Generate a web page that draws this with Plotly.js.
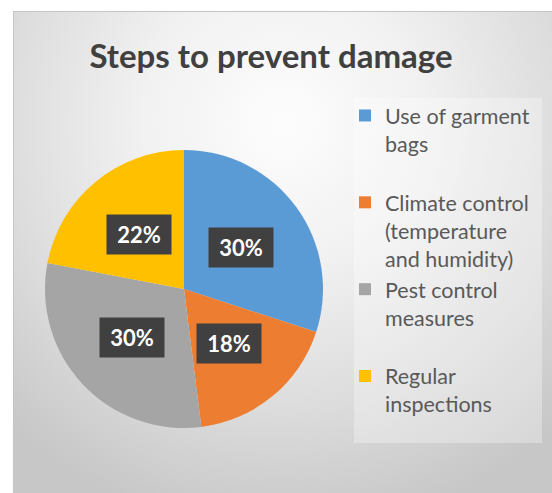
<!DOCTYPE html>
<html>
<head>
<meta charset="utf-8">
<script src="https://cdn.plot.ly/plotly-3.0.1.min.js"></script>
<style>
  html, body { margin: 0; padding: 0; background: #ffffff; }
  #wrap { position: relative; width: 552px; height: 493px; overflow: hidden; }
  #frame { position: absolute; left: 13px; top: 11px; width: 560px; height: 500px;
           border-left: 1px solid #c4c4c4; border-top: 1px solid #c4c4c4;
           background: radial-gradient(ellipse 72% 82% at 48% 22%, #fdfdfd 0%, #f1f1f1 35%, #dcdcdc 70%, #c7c7c7 100%); }
  #chart { position: absolute; left: 0; top: 0; width: 552px; height: 493px; }
</style>
</head>
<body>
<div id="wrap">
  <div id="frame"></div>
  <div id="chart"></div>
</div>
<script>
// ---- data ----
var categories = ["Use of garment bags", "Climate control (temperature and humidity)", "Pest control measures", "Regular inspections"];
var legendLabels = ["Use of garment<br>bags<br>\u00a0", "Climate control<br>(temperature<br>and humidity)", "Pest control<br>measures<br>\u00a0", "Regular<br>inspections"];
var values = [30, 18, 30, 22];
var colors = ["#5b9bd5", "#ed7d31", "#a5a5a5", "#ffc000"];
var chartTitle = "Steps to prevent damage";

var W = 552, H = 493;
var dom = { x: [0.0815, 0.5851], y: [0.1318, 0.6957] };

var trace = {
  type: "pie",
  labels: legendLabels,
  values: values,
  sort: false,
  direction: "clockwise",
  rotation: 0,
  marker: { colors: colors, line: { width: 0 } },
  textinfo: "none",
  hoverinfo: "label+percent",
  domain: dom
};

// label annotations positioned from data
var total = values.reduce(function (a, b) { return a + b; }, 0);
var cx = (dom.x[0] + dom.x[1]) / 2, cy = (dom.y[0] + dom.y[1]) / 2;
var R = Math.min((dom.x[1] - dom.x[0]) * W, (dom.y[1] - dom.y[0]) * H) / 2;
var annotations = [];
var cum = 0;
values.forEach(function (v) {
  var th = 2 * Math.PI * (cum + v / 2) / total;
  cum += v;
  var r = 0.51 * R;
  annotations.push({
    xref: "paper", yref: "paper",
    x: cx + r * Math.sin(th) / W,
    y: cy + r * Math.cos(th) / H,
    text: Math.round(100 * v / total) + "%",
    showarrow: false,
    font: { family: "Lato", size: 22, color: "#ffffff", weight: "bold" },
    bgcolor: "#404040",
    width: 54, height: 29, borderpad: 5,
    xanchor: "center", yanchor: "middle"
  });
});

var layout = {
  width: W, height: H,
  margin: { l: 0, r: 0, t: 0, b: 0 },
  paper_bgcolor: "rgba(0,0,0,0)",
  plot_bgcolor: "rgba(0,0,0,0)",
  title: {
    text: "<b>" + chartTitle + "</b>",
    font: { family: "Lato", size: 33, color: "#404040" },
    x: 271 / W, xanchor: "center",
    y: 1 - 56 / H, yref: "container", yanchor: "middle"
  },
  showlegend: true,
  legend: {
    x: 345 / W, xanchor: "left",
    y: 1 - 95 / H, yanchor: "top",
    valign: "top",
    bgcolor: "rgba(0,0,0,0)",
    borderwidth: 0,
    font: { family: "Lato", size: 21.5, color: "#595959" },
    itemclick: false, itemdoubleclick: false
  },
  shapes: [{
    type: "rect", xref: "paper", yref: "paper", layer: "below",
    x0: 354 / W, x1: 542 / W, y0: 1 - 443 / H, y1: 1 - 98 / H,
    fillcolor: "rgba(255,255,255,0.3)", line: { width: 0 }
  }],
  annotations: annotations
};

Plotly.newPlot("chart", [trace], layout, { displayModeBar: false, staticPlot: true });
</script>
</body>
</html>
